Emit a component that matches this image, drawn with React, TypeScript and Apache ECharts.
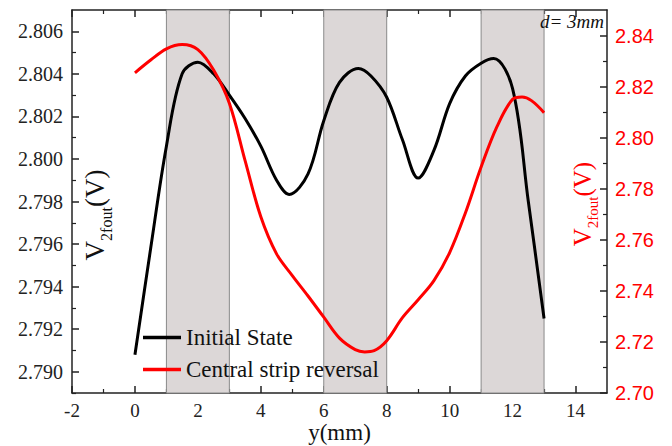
import React, { useEffect, useRef } from "react";
import * as echarts from "echarts";

// ---------- data ----------
const initialX = [0, 0.5, 1, 1.5, 2, 2.5, 3, 3.5, 4, 4.5, 4.9, 5.5, 6, 6.5, 7.1, 7.5, 8, 8.5, 9, 9.5, 10, 10.5, 11, 11.4, 12, 12.5, 13];
const initialY = [2.7908, 2.7958, 2.8006, 2.8040, 2.80455, 2.8040, 2.8030, 2.8019, 2.8006, 2.7990, 2.79833, 2.7993, 2.8018, 2.8036, 2.80425, 2.8039, 2.8029, 2.8009, 2.7991, 2.8004, 2.8026, 2.8039, 2.8045, 2.80472, 2.8033, 2.7980, 2.7925];

const reversalX = [0, 0.5, 1, 1.5, 2, 2.5, 3, 3.5, 4, 4.5, 5, 5.5, 6, 6.5, 7, 7.3, 7.6, 8, 8.5, 9, 9.5, 10, 10.5, 11, 11.5, 12, 12.3, 12.6, 13];
const reversalY = [2.8254, 2.8304, 2.8348, 2.8365, 2.8345, 2.8265, 2.8135, 2.7910, 2.7690, 2.7545, 2.7460, 2.7380, 2.7297, 2.7215, 2.7170, 2.7161, 2.7166, 2.7205, 2.7295, 2.7365, 2.7440, 2.7550, 2.7705, 2.7885, 2.8042, 2.8150, 2.8159, 2.8145, 2.8098];

const stripBands = [[1, 3], [6, 8], [11, 13]];

const xMajorTicks = [-2, 0, 2, 4, 6, 8, 10, 12, 14];
const xMinorTicks = [-1, 1, 3, 5, 7, 9, 11, 13];
const leftMajorTicks = [2.790, 2.792, 2.794, 2.796, 2.798, 2.800, 2.802, 2.804, 2.806];
const leftMinorTicks = [2.789, 2.791, 2.793, 2.795, 2.797, 2.799, 2.801, 2.803, 2.805];
const rightMajorTicks = [2.70, 2.72, 2.74, 2.76, 2.78, 2.80, 2.82, 2.84];
const rightMinorTicks = [2.71, 2.73, 2.75, 2.77, 2.79, 2.81, 2.83];

const seriesNames = ["Initial State", "Central strip reversal"];

const SERIF = "Liberation Serif";
const SANS = "Liberation Sans";
const AXIS_COLOR = "#222";

export default function App() {
  const ref = useRef<HTMLDivElement>(null);

  useEffect(() => {
    if (!ref.current) return;
    const chart = echarts.init(ref.current, undefined, { renderer: "svg" });

    const lineAxis = { show: true, onZero: false, lineStyle: { color: AXIS_COLOR, width: 1.5 } };
    const noLine = { show: false, onZero: false };
    const majorTick = (vals: number[]) => ({
      show: true, inside: true, length: 7, customValues: vals,
      lineStyle: { color: AXIS_COLOR, width: 1.5 },
    });
    const minorTick = (vals: number[]) => ({
      show: true, inside: true, length: 4, customValues: vals,
      lineStyle: { color: AXIS_COLOR, width: 1.2 },
    });

    const xBase = { type: "value", min: -2, max: 15, splitLine: { show: false } };
    const leftBase = { type: "value", min: 2.789, max: 2.807, splitLine: { show: false } };
    const rightBase = { type: "value", min: 2.7, max: 2.85, splitLine: { show: false } };

    const option: any = {
      animation: false,
      backgroundColor: "#fff",
      textStyle: { fontFamily: SERIF },
      grid: { left: 72, right: 65, top: 10, bottom: 53, containLabel: false, outerBoundsMode: "none" },
      legend: {
        data: seriesNames,
        orient: "vertical",
        left: 138,
        top: 321,
        padding: 5,
        icon: "rect",
        itemWidth: 38,
        itemHeight: 3.5,
        itemGap: 9,
        textStyle: { fontFamily: SERIF, fontSize: 23, fontWeight: "normal", color: "#111" },
      },
      xAxis: [
        {
          ...xBase, position: "bottom",
          axisLine: lineAxis,
          axisTick: majorTick(xMajorTicks),
          axisLabel: {
            customValues: xMajorTicks, margin: 8,
            fontFamily: SERIF, fontSize: 19, color: "#222",
          },
          name: "y(mm)", nameLocation: "middle", nameGap: 28,
          nameMoveOverlap: false,
          nameTextStyle: { fontFamily: SERIF, fontSize: 23, color: "#111" },
        },
        {
          ...xBase, position: "top",
          axisLine: lineAxis,
          axisTick: majorTick(xMajorTicks),
          axisLabel: { show: false },
        },
        {
          ...xBase, position: "bottom",
          axisLine: noLine,
          axisTick: minorTick(xMinorTicks),
          axisLabel: { show: false },
        },
        {
          ...xBase, position: "top",
          axisLine: noLine,
          axisTick: minorTick(xMinorTicks),
          axisLabel: { show: false },
        },
      ],
      yAxis: [
        {
          ...leftBase, position: "left",
          axisLine: lineAxis,
          axisTick: majorTick(leftMajorTicks),
          axisLabel: {
            customValues: leftMajorTicks, margin: 9,
            formatter: (v: number) => v.toFixed(3),
            fontFamily: SERIF, fontSize: 20, color: "#222",
          },
        },
        {
          ...rightBase, position: "right",
          axisLine: lineAxis,
          axisTick: majorTick(rightMajorTicks),
          axisLabel: {
            customValues: rightMajorTicks, margin: 8,
            formatter: (v: number) => v.toFixed(2),
            fontFamily: SANS, fontSize: 20, color: "#ff0000",
          },
        },
        {
          ...leftBase, position: "left",
          axisLine: noLine,
          axisTick: minorTick(leftMinorTicks),
          axisLabel: { show: false },
        },
        {
          ...rightBase, position: "right",
          axisLine: noLine,
          axisTick: minorTick(rightMinorTicks),
          axisLabel: { show: false },
        },
      ],
      series: [
        {
          name: "bands",
          type: "line",
          xAxisIndex: 0,
          yAxisIndex: 0,
          data: initialX.map((x, i) => [x, initialY[i]]),
          symbol: "none",
          lineStyle: { opacity: 0, width: 0 },
          silent: true,
          z: 1,
          markArea: {
            silent: true,
            itemStyle: { color: "#dcd7d7", borderColor: "#8a8a8a", borderWidth: 1 },
            data: stripBands.map(([a, b]) => [{ xAxis: a }, { xAxis: b }]),
          },
        },
        {
          name: seriesNames[0],
          type: "line",
          xAxisIndex: 0,
          yAxisIndex: 0,
          data: initialX.map((x, i) => [x, initialY[i]]),
          smooth: 0.35,
          symbol: "none",
          lineStyle: { color: "#000", width: 3 },
          itemStyle: { color: "#000" },
          z: 3,
        },
        {
          name: seriesNames[1],
          type: "line",
          xAxisIndex: 0,
          yAxisIndex: 1,
          data: reversalX.map((x, i) => [x, reversalY[i]]),
          smooth: 0.35,
          symbol: "none",
          lineStyle: { color: "#ff0000", width: 3 },
          itemStyle: { color: "#ff0000" },
          z: 4,
        },
      ],
      graphic: [
        {
          type: "text",
          z: 20,
          x: 95,
          y: 215,
          rotation: Math.PI / 2,
          style: {
            text: "{a|V}{b|2fout}{a|(V)}",
            align: "center",
            verticalAlign: "middle",
            rich: {
              a: { fontFamily: SERIF, fontSize: 27, lineHeight: 38, verticalAlign: "middle", fill: "#111" },
              b: { fontFamily: SERIF, fontSize: 16, lineHeight: 16, verticalAlign: "bottom", fill: "#111" },
            },
          },
        },
        {
          type: "text",
          z: 20,
          x: 582,
          y: 204,
          rotation: Math.PI / 2,
          style: {
            text: "{a|V}{b|2fout}{a|(V)}",
            align: "center",
            verticalAlign: "middle",
            rich: {
              a: { fontFamily: SERIF, fontSize: 25, lineHeight: 36, verticalAlign: "middle", fill: "#ff0000" },
              b: { fontFamily: SERIF, fontSize: 15, lineHeight: 15, verticalAlign: "bottom", fill: "#ff0000" },
            },
          },
        },
        {
          type: "text",
          z: 20,
          x: 604,
          y: 12,
          style: {
            text: "d= 3mm",
            align: "right",
            verticalAlign: "top",
            fontFamily: SERIF,
            fontStyle: "italic",
            fontSize: 19,
            fill: "#111",
          },
        },
      ],
    };

    chart.setOption(option);
    return () => chart.dispose();
  }, []);

  return (
    <div
      ref={ref}
      style={{ position: "absolute", left: 0, top: 0, width: 672, height: 446 }}
    />
  );
}
